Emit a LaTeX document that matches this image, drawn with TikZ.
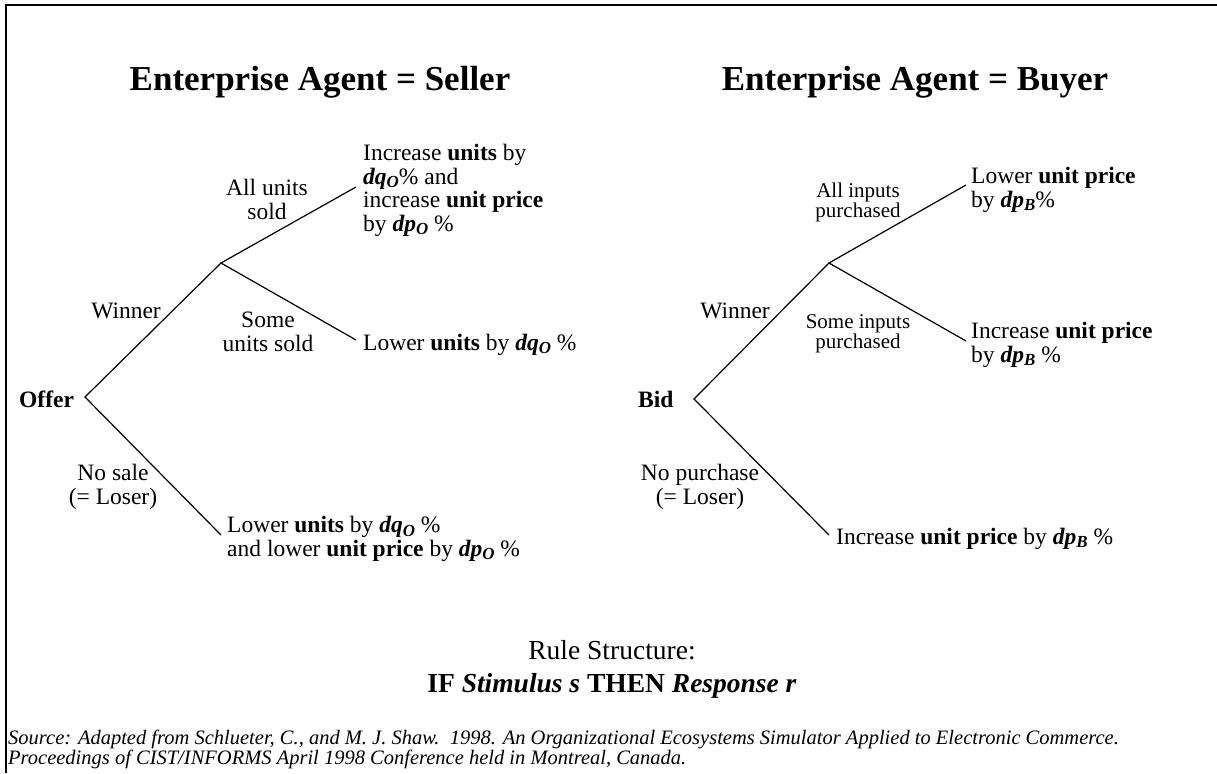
\documentclass[tikz,border=0pt]{standalone}
\usepackage{fontspec}
\usepackage{graphicx}
\setmainfont{Liberation Serif}
\newcommand\bsub[1]{\raisebox{-0.35ex}{\scalebox{0.72}{\bfseries\itshape #1}}}
\newcommand\bv[1]{\textbf{\textit{#1}}}
\begin{document}
\begin{tikzpicture}[x=1pt,y=-1pt,
  body/.style={inner sep=0pt, font=\fontsize{23.5}{23.5}\selectfont, align=left},
  lbl/.style={inner sep=0pt, font=\fontsize{23.5}{23.5}\selectfont, align=center},
  slbl/.style={inner sep=0pt, font=\fontsize{21}{20}\selectfont, align=center},
  ttl/.style={inner sep=0pt, font=\fontsize{35}{37}\selectfont\bfseries},
  branch/.style={draw, line width=1.2pt},
]
\useasboundingbox (0,0) rectangle (1217,773);
\draw[line width=2pt] (6,773) -- (6,5) -- (1217,5);

% titles
\node[ttl, anchor=base] (t1) at (320,91) {Enterprise Agent = Seller};
\node[ttl, anchor=base] (t2) at (915,91) {Enterprise Agent = Buyer};

% ---------- left tree ----------
\node[inner sep=0pt, anchor=base west, font=\fontsize{23.5}{23.5}\selectfont\bfseries] (offer) at (19,407) {Offer};
\coordinate (r1) at (85,397);
\coordinate (f1) at (221,263);
\coordinate (e1a) at (356,187);
\coordinate (e1b) at (356,340);
\coordinate (e1c) at (221,535);
\draw[branch] (e1a) -- (f1) -- (e1b);
\draw[branch] (f1) -- (r1) -- (e1c);

\node[lbl, anchor=north] (l1a) at (267,179) {All units\\sold};
\node[lbl, anchor=base east] (l1w) at (161,318) {Winner};
\node[lbl, anchor=north] (l1b) at (268,312) {Some\\units sold};
\node[lbl, anchor=north] (l1c) at (113,464) {No sale\\(= Loser)};

\node[body, anchor=north west] (o1a) at (363,144) {Increase \textbf{units} by\\\bv{dq}\bsub{O}\% and\\increase \textbf{unit price}\\by \bv{dp}\bsub{O} \%};
\node[body, anchor=base west] (o1b) at (363,350) {Lower \textbf{units} by \bv{dq}\bsub{O} \%};
\node[body, anchor=north west] (o1c) at (227,516) {Lower \textbf{units} by \bv{dq}\bsub{O} \%\\and lower \textbf{unit price} by \bv{dp}\bsub{O} \%};

% ---------- right tree ----------
\node[inner sep=0pt, anchor=base west, font=\fontsize{23.5}{23.5}\selectfont\bfseries] (bid) at (638,407) {Bid};
\coordinate (r2) at (694,399);
\coordinate (f2) at (829,263);
\coordinate (e2a) at (966,185);
\coordinate (e2b) at (966,341);
\coordinate (e2c) at (829,535);
\draw[branch] (e2a) -- (f2) -- (e2b);
\draw[branch] (f2) -- (r2) -- (e2c);

\node[slbl, anchor=north] (l2a) at (858,183) {All inputs\\purchased};
\node[lbl, anchor=base east] (l2w) at (770,318) {Winner};
\node[slbl, anchor=north] (l2b) at (858,314) {Some inputs\\purchased};
\node[lbl, anchor=north] (l2c) at (700,464) {No purchase\\(= Loser)};

\node[body, anchor=north west] (o2a) at (971,167) {Lower \textbf{unit price}\\by \bv{dp}\bsub{B}\%};
\node[body, anchor=north west] (o2b) at (971,322) {Increase \textbf{unit price}\\by \bv{dp}\bsub{B} \%};
\node[body, anchor=base west] (o2c) at (836,544) {Increase \textbf{unit price} by \bv{dp}\bsub{B} \%};

% ---------- bottom ----------
\node[inner sep=0pt, anchor=north, font=\fontsize{27.5}{33}\selectfont, align=center] (rule) at (612,640)
  {Rule Structure:\\\textbf{IF \textit{Stimulus s} THEN \textit{Response r}}};
\node[inner sep=0pt, anchor=north west, align=left, font=\fontsize{20.5}{20}\selectfont\itshape] (src) at (8,730)
  {Source: Adapted from Schlueter, C., and M. J. Shaw.\ \ 1998. An Organizational Ecosystems Simulator Applied to Electronic Commerce.\\Proceedings of CIST/INFORMS April 1998 Conference held in Montreal, Canada.};
\end{tikzpicture}
\end{document}
